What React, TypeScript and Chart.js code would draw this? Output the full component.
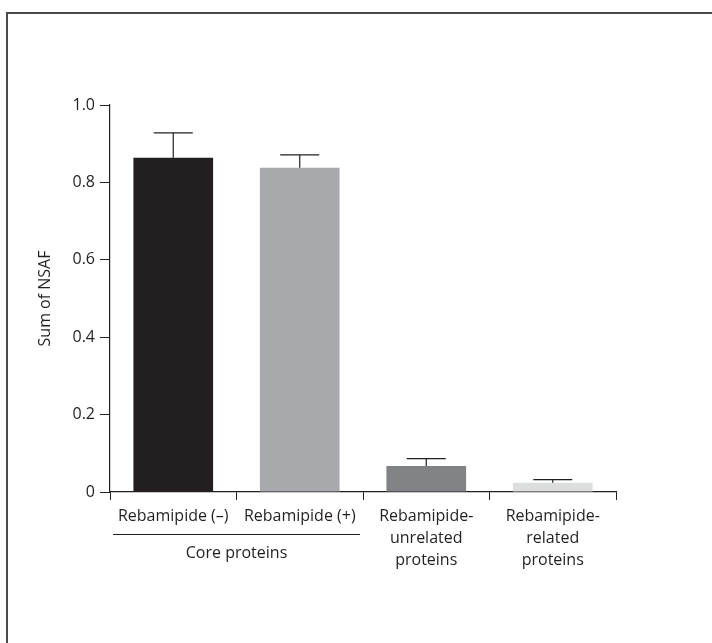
import React, { useEffect, useRef } from "react";
import { Chart, registerables } from "chart.js";

Chart.register(...registerables);

const categories: string[][] = [
  ["Rebamipide (–)"],
  ["Rebamipide (+)"],
  ["Rebamipide-", "unrelated", "proteins"],
  ["Rebamipide-", "related", "proteins"],
];
const values: number[] = [0.864, 0.838, 0.067, 0.024];
const errors: number[] = [0.064, 0.033, 0.019, 0.008];
const barColors: string[] = ["#231f20", "#a7a9ac", "#808285", "#dcdddf"];
const groupLabel = "Core proteins";
const groupRange: number[] = [0, 1];
const yTicks: number[] = [0, 0.2, 0.4, 0.6, 0.8, 1.0];

const INK = "#231f20";
const FONT = "'Open Sans', 'Noto Sans', sans-serif";

const errorBarPlugin = {
  id: "errorBars",
  afterDatasetsDraw(chart: any) {
    const ctx = chart.ctx;
    const meta = chart.getDatasetMeta(0);
    const y = chart.scales.y;
    ctx.save();
    ctx.strokeStyle = INK;
    ctx.lineWidth = 1.2;
    meta.data.forEach((bar: any, i: number) => {
      const x = bar.x;
      const w = bar.width;
      const yv = y.getPixelForValue(values[i]);
      const yt = y.getPixelForValue(values[i] + errors[i]);
      const half = w * 0.245;
      ctx.beginPath();
      ctx.moveTo(x, yv);
      ctx.lineTo(x, yt);
      ctx.moveTo(x - half, yt);
      ctx.lineTo(x + half, yt);
      ctx.stroke();
    });
    ctx.restore();
  },
};

const groupPlugin = {
  id: "groupLabel",
  afterDraw(chart: any) {
    const ctx = chart.ctx;
    const xs = chart.scales.x;
    const catW = xs.getPixelForValue(1) - xs.getPixelForValue(0);
    const x0 = xs.getPixelForValue(groupRange[0]) - catW / 2 + 3;
    const x1 = xs.getPixelForValue(groupRange[1]) + catW / 2 - 3;
    const lineY = xs.top + 42.5;
    ctx.save();
    ctx.strokeStyle = INK;
    ctx.lineWidth = 1;
    ctx.beginPath();
    ctx.moveTo(x0, lineY);
    ctx.lineTo(x1, lineY);
    ctx.stroke();
    ctx.fillStyle = INK;
    ctx.font = `16px ${FONT}`;
    ctx.textAlign = "center";
    ctx.textBaseline = "middle";
    ctx.fillText(groupLabel, (x0 + x1) / 2, xs.top + 61);
    ctx.restore();
  },
};

export default function App() {
  const ref = useRef<HTMLCanvasElement | null>(null);

  useEffect(() => {
    if (!ref.current) return;
    const chart = new Chart(ref.current, {
      type: "bar",
      data: {
        labels: categories,
        datasets: [
          {
            data: values,
            backgroundColor: barColors,
            borderWidth: 0,
            barPercentage: 0.63,
            categoryPercentage: 1,
          },
        ],
      },
      options: {
        responsive: false,
        animation: false,
        layout: { padding: { left: 0, right: 96, top: 105, bottom: 0 } },
        plugins: {
          legend: { display: false },
          tooltip: { enabled: false },
        },
        scales: {
          x: {
            type: "category",
            afterFit: (s: any) => {
              s.height = 151;
            },
            grid: {
              display: true,
              offset: true,
              drawOnChartArea: false,
              drawTicks: true,
              tickLength: 8,
              color: INK,
              lineWidth: 1,
            },
            border: { display: true, color: INK, width: 1.2 },
            ticks: {
              color: INK,
              padding: 6,
              maxRotation: 0,
              autoSkip: false,
              font: { family: FONT, size: 16, lineHeight: 1.35 },
            },
          },
          y: {
            min: 0,
            max: 1,
            afterFit: (s: any) => {
              s.width = 110;
            },
            afterBuildTicks: (s: any) => {
              s.ticks = yTicks.map((v) => ({ value: v }));
            },
            grid: {
              display: true,
              drawOnChartArea: false,
              drawTicks: true,
              tickLength: 10,
              color: INK,
              lineWidth: 1,
            },
            border: { display: true, color: INK, width: 1.2 },
            ticks: {
              color: INK,
              padding: 5,
              font: { family: FONT, size: 16 },
              callback: (v: any) => (Number(v) === 0 ? "0" : Number(v).toFixed(1)),
            },
            title: {
              display: true,
              text: "Sum of NSAF",
              color: INK,
              padding: { top: 36, bottom: 0 },
              font: { family: FONT, size: 16 },
            },
          },
        },
      },
      plugins: [errorBarPlugin, groupPlugin],
    });
    return () => chart.destroy();
  }, []);

  return (
    <div
      style={{
        position: "fixed",
        left: 0,
        top: 0,
        width: 712,
        height: 643,
        background: "#ffffff",
        overflow: "hidden",
      }}
    >
      <div
        style={{
          position: "absolute",
          left: 6,
          top: 12,
          width: 740,
          height: 680,
          borderLeft: "2px solid #4a4a4a",
          borderTop: "2px solid #4a4a4a",
        }}
      />
      <canvas
        ref={ref}
        width={712}
        height={643}
        style={{ position: "absolute", left: 0, top: 0 }}
      />
    </div>
  );
}
